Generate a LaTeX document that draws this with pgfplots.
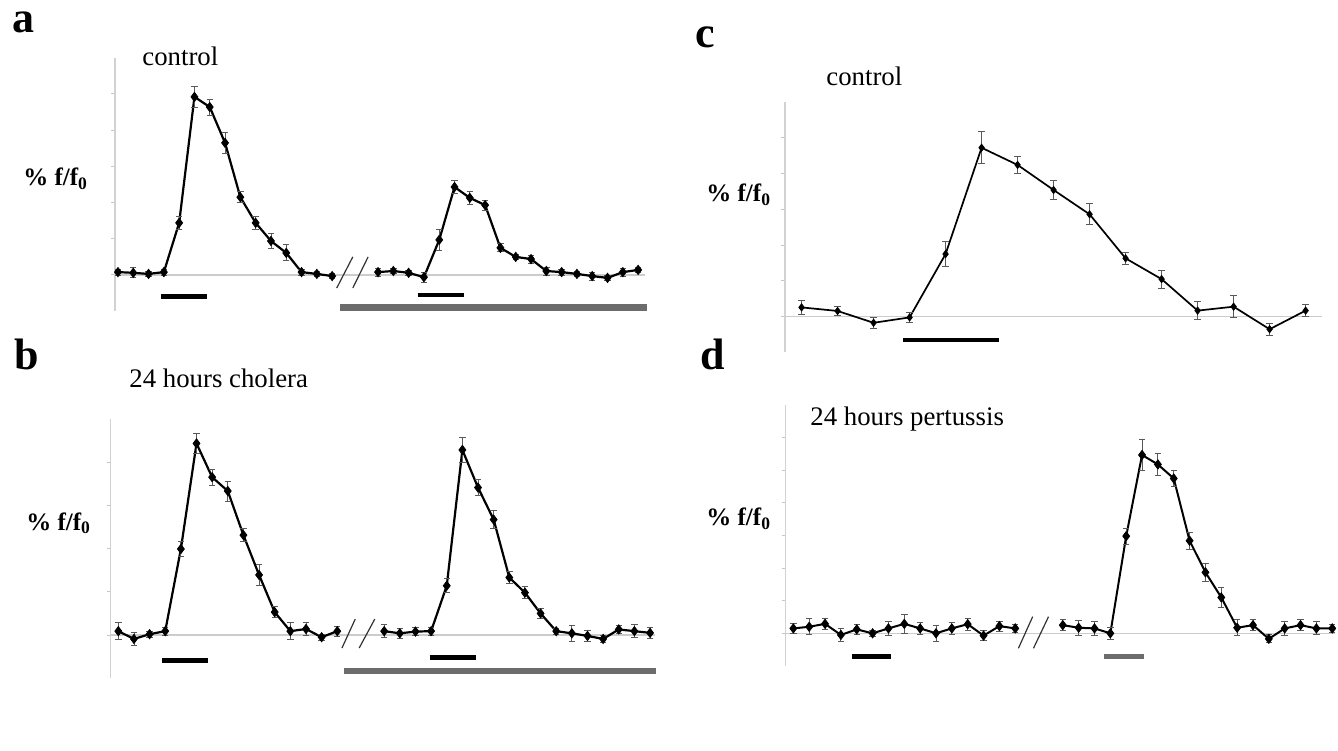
\documentclass[border=0pt]{standalone}
\usepackage{fontspec}
\setmainfont{Liberation Serif}
\usepackage{pgfplots}
\pgfplotsset{compat=1.18}

\pgfplotsset{
  panel/.style={
    scale only axis, clip=false,
    anchor=south west,
    axis x line=none, axis y line*=left,
    y axis line style={gray!35, line width=0.6pt},
    ytick style={gray!45, line width=0.5pt},
    tick align=outside, major tick length=1.8pt,
    yticklabels={},
  },
  trace/.style={black, line width=1.1pt, mark=diamond*, mark size=2.3pt,
    mark options={solid, line width=0.4pt},
    error bars/y dir=both, error bars/y explicit,
    error bars/error bar style={line width=0.45pt, black!65},
    error bars/error mark options={rotate=90, mark size=1.6pt, line width=0.45pt, black!65}},
  base/.style={gray!40, line width=0.6pt},
  brk/.style={black!80, line width=0.6pt},
  stim/.style={black, line width=2.4pt},
  perfuse/.style={gray!85!black, line width=3.2pt},
}

\begin{document}
\begin{tikzpicture}[x=0.5pt, y=0.5pt]
\useasboundingbox (0,0) rectangle (1338,750);

% ---- panel a ----
\begin{axis}[panel, at={(57.45pt,219.4pt)}, width=266.2pt, height=126.7pt,
  xmin=0.8, xmax=35.6, ymin=-10, ymax=60, ytick={0,10,...,50}]
\addplot[base] coordinates {(0.8,0) (35.45,0)};
\addplot[stim] coordinates {(3.8,-5.9) (6.8,-5.9)};
\addplot[stim] coordinates {(20.6,-5.5) (23.6,-5.5)};
\addplot[perfuse] coordinates {(15.5,-9.0) (35.6,-9.0)};
\addplot[brk] coordinates {(15.3,-3.6) (16.35,5.0)};
\addplot[brk] coordinates {(16.35,-3.6) (17.35,5.0)};
\addplot[trace] coordinates {
  (1,0.8) +- (0,0.8) (2,0.6) +- (0,1.4) (3,0.3) +- (0,0.6) (4,0.8) +- (0,0.8)
  (5,14.4) +- (0,1.9) (6,49.2) +- (0,2.8) (7,46.4) +- (0,2.2) (8,36.5) +- (0,3.0)
  (9,21.5) +- (0,1.5) (10,14.4) +- (0,1.7) (11,9.4) +- (0,2.1) (12,6.1) +- (0,2.2)
  (13,0.8) +- (0,0.8) (14,0.3) +- (0,0.6) (15,-0.3) +- (0,0.6)};
\addplot[trace] coordinates {
  (18,0.8) +- (0,1.1) (19,1.1) +- (0,0.8) (20,0.6) +- (0,0.6) (21,-0.6) +- (0,1.4)
  (22,9.7) +- (0,2.8) (23,24.3) +- (0,1.8) (24,21.3) +- (0,1.9) (25,19.3) +- (0,1.4)
  (26,7.5) +- (0,1.1) (27,5.0) +- (0,0.8) (28,4.4) +- (0,1.1) (29,1.1) +- (0,1.1)
  (30,0.8) +- (0,0.8) (31,0.3) +- (0,0.8) (32,-0.3) +- (0,1.1) (33,-0.8) +- (0,0.6)
  (34,0.8) +- (0,1.1) (35,1.4) +- (0,0.6)};
\end{axis}

% ---- panel b ----
\begin{axis}[panel, at={(55.25pt,35.85pt)}, width=272.9pt, height=129.75pt,
  xmin=0.5, xmax=35.4, ymin=-10, ymax=50, ytick={0,10,...,40}]
\addplot[base] coordinates {(0.5,0) (35.3,0)};
\addplot[stim] coordinates {(3.8,-5.8) (6.75,-5.8)};
\addplot[stim] coordinates {(20.9,-5.2) (23.9,-5.2)};
\addplot[perfuse] coordinates {(15.4,-8.3) (35.4,-8.3)};
\addplot[brk] coordinates {(15.3,-3.0) (16.15,3.7)};
\addplot[brk] coordinates {(16.4,-3.0) (17.4,3.7)};
\addplot[trace] coordinates {
  (1,0.9) +- (0,1.9) (2,-0.9) +- (0,1.5) (3,0.2) +- (0,0.7) (4,0.9) +- (0,0.9)
  (5,19.9) +- (0,1.7) (6,44.3) +- (0,2.4) (7,36.5) +- (0,1.9) (8,33.3) +- (0,2.3)
  (9,23.1) +- (0,1.5) (10,13.9) +- (0,2.5) (11,5.3) +- (0,1.2) (12,0.9) +- (0,1.9)
  (13,1.4) +- (0,1.4) (14,-0.5) +- (0,0.7) (15,0.9) +- (0,1.2)};
\addplot[trace] coordinates {
  (18,0.9) +- (0,1.5) (19,0.4) +- (0,1.2) (20,0.8) +- (0,0.9) (21,0.9) +- (0,0.9)
  (22,11.4) +- (0,1.6) (23,42.8) +- (0,2.9) (24,34.1) +- (0,1.8) (25,26.7) +- (0,2.0)
  (26,13.3) +- (0,1.4) (27,9.8) +- (0,1.4) (28,5.0) +- (0,1.2) (29,0.9) +- (0,0.7)
  (30,0.4) +- (0,1.9) (31,-0.2) +- (0,1.2) (32,-0.9) +- (0,0.9) (33,1.3) +- (0,0.9)
  (34,0.9) +- (0,1.5) (35,0.5) +- (0,1.2)};
\end{axis}

% ---- panel c ----
\begin{axis}[panel, at={(392.5pt,198.75pt)}, width=269.3pt, height=125.3pt,
  xmin=0.54, xmax=15.5, ymin=-10, ymax=60, ytick={0,10,...,50}]
\addplot[base] coordinates {(0.54,0) (15.46,0)};
\addplot[stim] coordinates {(3.83,-6.5) (6.47,-6.5)};
\addplot[trace, line width=0.85pt, mark size=1.8pt] coordinates {
  (1,2.6) +- (0,1.9) (2,1.6) +- (0,1.3) (3,-1.7) +- (0,1.5) (4,-0.2) +- (0,1.5)
  (5,17.5) +- (0,3.6) (6,47.2) +- (0,4.5) (7,42.4) +- (0,2.3) (8,35.4) +- (0,2.7)
  (9,28.6) +- (0,2.9) (10,16.3) +- (0,1.6) (11,10.5) +- (0,2.5) (12,1.7) +- (0,2.5)
  (13,2.8) +- (0,3.0) (14,-3.5) +- (0,1.6) (15,1.7) +- (0,1.6)};
\end{axis}

% ---- panel d ----
\begin{axis}[panel, at={(392.55pt,42.05pt)}, width=275.15pt, height=130.4pt,
  xmin=0.48, xmax=35.2, ymin=-10, ymax=70, ytick={0,10,...,60}]
\addplot[base] coordinates {(0.48,0) (35.15,0)};
\addplot[stim] coordinates {(4.7,-7.0) (7.16,-7.0)};
\addplot[perfuse, line width=2.4pt] coordinates {(20.6,-7.0) (23.1,-7.0)};
\addplot[brk] coordinates {(15.2,-4.6) (16.1,5.1)};
\addplot[brk] coordinates {(16.15,-4.6) (17.1,5.1)};
\addplot[trace, line width=1pt] coordinates {
  (1,1.5) +- (0,1.6) (2,2.0) +- (0,2.5) (3,2.9) +- (0,1.8) (4,-0.5) +- (0,2.0)
  (5,1.2) +- (0,1.6) (6,0) +- (0,0.9) (7,1.5) +- (0,2.1) (8,2.9) +- (0,2.8)
  (9,1.5) +- (0,1.8) (10,0) +- (0,2.4) (11,1.5) +- (0,1.7) (12,2.8) +- (0,1.8)
  (13,-0.7) +- (0,1.5) (14,2.2) +- (0,1.5) (15,1.5) +- (0,1.3)};
\addplot[trace, line width=1pt] coordinates {
  (18,2.5) +- (0,1.7) (19,1.7) +- (0,2.3) (20,1.5) +- (0,2.1) (21,0) +- (0,1.9)
  (22,29.8) +- (0,2.4) (23,54.7) +- (0,4.7) (24,51.8) +- (0,3.5) (25,47.5) +- (0,2.6)
  (26,28.4) +- (0,2.6) (27,18.7) +- (0,2.8) (28,11.0) +- (0,3.1) (29,1.7) +- (0,2.4)
  (30,2.5) +- (0,1.7) (31,-1.7) +- (0,1.2) (32,1.5) +- (0,2.1) (33,2.5) +- (0,1.7)
  (34,1.5) +- (0,2.0) (35,1.5) +- (0,1.3)};
\end{axis}

% ---- labels ----
\begin{scope}[every node/.style={inner sep=0pt, anchor=base west}]
\node at (12,717) {\fontsize{22}{24}\selectfont\bfseries a};
\node at (14,380) {\fontsize{22}{24}\selectfont\bfseries b};
\node at (695,702) {\fontsize{22}{24}\selectfont\bfseries c};
\node at (700,380) {\fontsize{22}{24}\selectfont\bfseries d};
\node at (142,684) {\fontsize{13.4}{16}\selectfont control};
\node at (826,664) {\fontsize{13.4}{16}\selectfont control};
\node at (129,362) {\fontsize{13.4}{16}\selectfont 24 hours cholera};
\node at (810,324) {\fontsize{13.4}{16}\selectfont 24 hours pertussis};
\node at (23,564) {\fontsize{12.5}{15}\selectfont\bfseries \% f/f\textsubscript{0}};
\node at (26,220) {\fontsize{12.5}{15}\selectfont\bfseries \% f/f\textsubscript{0}};
\node at (706,548) {\fontsize{12.5}{15}\selectfont\bfseries \% f/f\textsubscript{0}};
\node at (706,224) {\fontsize{12.5}{15}\selectfont\bfseries \% f/f\textsubscript{0}};
\end{scope}
\end{tikzpicture}
\end{document}
